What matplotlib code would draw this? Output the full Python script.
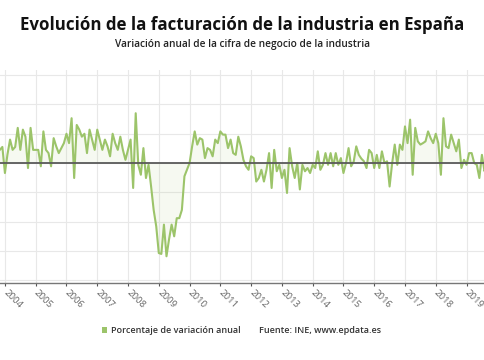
# Evolución de la facturación de la industria en España (variación anual, %)

import matplotlib
matplotlib.use("Agg")
import matplotlib.pyplot as plt
from matplotlib.patches import Rectangle

plt.rcParams["font.family"] = ["Open Sans", "DejaVu Sans"]

# monthly annual variation (%), series starts Nov 2003
start_year, start_month = 2003, 11
v2003 = [4.5, 5.5]
v2004 = [-3.4, 3, 8, 4.5, 5.5, 12, 4.5, 11.4, 9, -1.7, 12, 4.5]
v2005 = [4.5, 4.5, -1.1, 10.8, 4.5, 3.4, -1.1, 8.5, 5.7, 3.4, 5.1, 6.8]
v2006 = [10, 6.8, 15.3, -5.1, 13, 11.4, 9, 10, 3.4, 11.4, 8, 4.5]
v2007 = [11.4, 8, 4.5, 8, 5.7, 2.3, 10, 6.8, 4.5, 9, 4.5, 1.1]
v2008 = [4.5, 8, -8.5, 17, -0.6, -4, 5.1, -5.1, -0.6, -8, -16, -21.6]
v2009 = [-30.7, -31, -21, -31.8, -26, -21, -25, -18.8, -18.8, -16, -4.5, -2.3]
v2010 = [0, 5.7, 10.8, 6.3, 8.5, 8, 1.7, 5.1, 4.5, 2.3, 8, 6.8]
v2011 = [10.8, 9.7, 9.7, 5.1, 8, 3.4, 2.8, 9, 5.7, 1.1, -1.1, -2.3]
v2012 = [2.3, 1.7, -6.3, -5.1, -2.3, -6.3, -2.3, 3.4, -8.5, 4.5, -2.8, -0.6]
v2013 = [-5.1, -2.3, -10.2, 5.1, -1.1, -5.1, 0, -9, -0.6, -2.8, -1.7, -3.4]
v2014 = [-0.6, -1.7, 4, -2.3, -0.6, 3.4, -0.6, 3.4, -1.1, 3.4, -0.6, 1.7]
v2015 = [-3.4, 0, 5.1, -1.1, 0.5, 5.7, 2.8, 1.5, 0.6, -1.7, 4.5, 3.4]
v2016 = [-1.7, 2.8, -1.7, 4, 0, 0.6, -8, 0, 6.3, -0.6, 6.3, 4.5]
v2017 = [12.5, 6.8, 14.8, -4, 12, 7.4, 6.3, 6.8, 7.4, 10.8, 8.5, 6.8]
v2018 = [10, 6.8, -4, 15.3, 5.7, 5.1, 9.7, 6.8, 4, 8, -1.7, 1.1]
v2019 = [-0.6, 3.4, 3.4, 0, -0.6, -5.1, 2.8, -2.8, -0.6]

values = (v2003 + v2004 + v2005 + v2006 + v2007 + v2008 + v2009 + v2010
          + v2011 + v2012 + v2013 + v2014 + v2015 + v2016 + v2017 + v2018 + v2019)

# fractional year position of each month
x = [start_year + (start_month - 1 + i) / 12 for i in range(len(values))]

tick_years = list(range(2004, 2020))
tick_labels = [str(y) for y in tick_years]

line_color = "#9cc46a"

fig = plt.figure(figsize=(4.85, 3.6), dpi=100)
ax = fig.add_axes([0.0, 0.214, 1.0, 0.592])

ax.fill_between(x, values, 0, color=line_color, alpha=0.09, linewidth=0)
ax.plot(x, values, color=line_color, lw=1.5)
ax.axhline(0, color="#5a5a5a", lw=1.3, zorder=3)

ax.set_xlim(2003.84, 2019.6)
ax.set_ylim(-40.9, 31.8)
ax.set_yticks(range(-40, 31, 10))
ax.set_yticklabels([])
ax.set_xticks(tick_years)
ax.set_xticklabels(tick_labels, rotation=-45, rotation_mode="anchor",
                   ha="left", va="center", fontsize=6.8, color="#666666")
ax.tick_params(axis="x", length=2, width=0.8, color="#555555", pad=4)
ax.tick_params(axis="y", length=0)
ax.grid(True, color="#e8e8e8", lw=0.8)
ax.set_axisbelow(True)
for s in ["top", "left", "right"]:
    ax.spines[s].set_visible(False)
ax.spines["bottom"].set_color("#777777")
ax.spines["bottom"].set_linewidth(1.0)

# titles
fig.text(0.5, 0.93, "Evolución de la facturación de la industria en España",
         ha="center", va="center", fontsize=12.2, fontweight="bold", color="#111111")
fig.text(0.5, 0.876, "Variación anual de la cifra de negocio de la industria",
         ha="center", va="center", fontsize=7.3, fontweight="semibold", color="#222222")

# legend and source
fig.add_artist(Rectangle((0.2095, 0.076), 0.011, 0.015, transform=fig.transFigure,
                         color=line_color, linewidth=0))
fig.text(0.229, 0.083, "Porcentaje de variación anual", ha="left", va="center",
         fontsize=6.5, fontweight="semibold", color="#333333")
fig.text(0.535, 0.083, "Fuente: INE, www.epdata.es", ha="left", va="center",
         fontsize=6.5, fontweight="semibold", color="#333333")

fig.savefig("out.png", dpi=100)
